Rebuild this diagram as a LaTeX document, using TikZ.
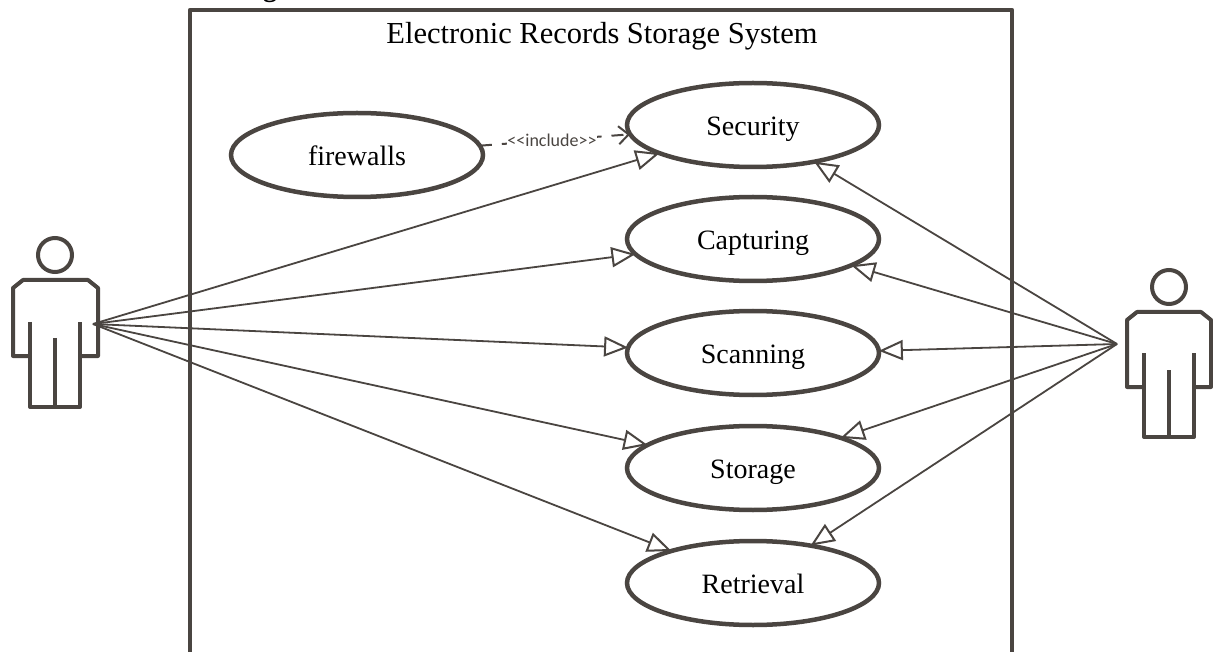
\documentclass[tikz,border=0pt]{standalone}
\usepackage{fontspec}
\setmainfont{Liberation Serif}
\newfontfamily\labelfont{Carlito}
\usetikzlibrary{arrows.meta,shapes.geometric}
\definecolor{ink}{HTML}{4A4541}
\tikzset{
  usecase/.style={draw=ink,line width=4.5pt,ellipse,minimum width=252pt,minimum height=84pt,inner sep=0pt,outer sep=0pt,font=\fontsize{28}{30}\selectfont,text=black,text height=24pt,text depth=3.5pt},
  assoc/.style={draw=ink,line width=1.8pt,-{Triangle[open,length=24pt,width=20pt,line width=2pt]}},
  inclusion/.style={draw=ink,line width=2pt,dash pattern=on 12pt off 10pt,-{Straight Barb[length=10pt,width=18pt,line width=2pt]}},
  actorline/.style={draw=ink,line width=4pt,line join=round},
  head/.style={circle,draw=ink,line width=4pt,minimum size=34pt,inner sep=0pt,outer sep=0pt}
}
\begin{document}
\begin{tikzpicture}[x=1pt,y=-1pt]
\useasboundingbox (0,0) rectangle (1213,652);
\fill[white] (0,0) rectangle (1213,652);
% clipped line of text above the frame
\node[anchor=base,font=\bfseries\fontsize{28}{30}\selectfont,inner sep=0pt] (cut) at (270,-3) {g};
% system frame
\draw[ink,line width=4.5pt,line join=round] (190,670) -- (190,10) -- (1012,10) -- (1012,670);
\node[font=\fontsize{30.5}{32}\selectfont,inner sep=0pt] (title) at (602,36.5) {Electronic Records Storage System};
% use cases
\node[usecase] (fw)  at (357,155) {firewalls};
\node[usecase] (sec) at (753,125) {Security};
\node[usecase] (cap) at (753,239) {Capturing};
\node[usecase] (sca) at (753,353) {Scanning};
\node[usecase] (sto) at (753,468) {Storage};
\node[usecase] (ret) at (753,583) {Retrieval};
% left actor
\node[head] (headL) at (55,255) {};
\draw[actorline] (30,356) -- (13,356) -- (13,288) -- (23,280) -- (88,280) -- (98,288) -- (98,356) -- (80,356);
\draw[actorline] (30,322) -- (30,407) -- (80,407) -- (80,322);
\draw[actorline] (55,338) -- (55,407);
% right actor
\node[head] (headR) at (1169,287) {};
\draw[actorline] (1144,387) -- (1127,387) -- (1127,320) -- (1137,312) -- (1201,312) -- (1211,320) -- (1211,387) -- (1194,387);
\draw[actorline] (1144,353) -- (1144,437) -- (1194,437) -- (1194,353);
\draw[actorline] (1169,370) -- (1169,437);
% connection hubs
\coordinate (hubL) at (93,324);
\coordinate (hubR) at (1117,344);
% connectors
\draw[assoc] (hubL) -- (sec);
\draw[assoc] (hubL) -- (cap);
\draw[assoc] (hubL) -- (sca);
\draw[assoc] (hubL) -- (sto);
\draw[assoc] (hubL) -- (ret);
\draw[assoc] (hubR) -- (sec.-31);
\draw[assoc] (hubR) -- (cap.-15.6);
\draw[assoc] (hubR) -- (sca.1);
\draw[assoc] (hubR) -- (sto.19.2);
\draw[assoc] (hubR) -- (ret.33.9);
\draw[inclusion] (fw) -- node[pos=0.48,fill=white,inner sep=0pt,text=ink,font=\labelfont\fontsize{18}{20}\selectfont] (inc) {<<include>>} (sec);
\end{tikzpicture}
\end{document}
